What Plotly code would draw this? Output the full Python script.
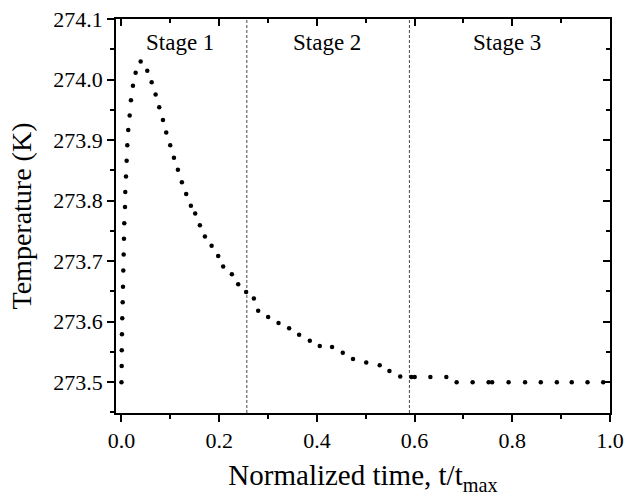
import plotly.graph_objects as go

# Normalized time t/tmax
t_norm = [0.0, 0.0004, 0.0006, 0.001, 0.0016, 0.0025, 0.0031, 0.0037, 0.0045, 0.0051,
          0.0057, 0.0072, 0.0078, 0.0092, 0.0106, 0.0119, 0.0139, 0.0168, 0.0194, 0.0235,
          0.029, 0.0393, 0.0528, 0.0618, 0.0699, 0.0773, 0.0849, 0.0916, 0.0998, 0.1074,
          0.1155, 0.1237, 0.1325, 0.1421, 0.1509, 0.1605, 0.1708, 0.1845, 0.198, 0.2082,
          0.226, 0.2389, 0.2552, 0.271, 0.2798, 0.3002, 0.3215, 0.3432, 0.3636, 0.3855,
          0.4059, 0.4311, 0.453, 0.474, 0.501, 0.5286, 0.5485, 0.5706, 0.5935, 0.6002,
          0.6323, 0.665, 0.6861, 0.7188, 0.7515, 0.7587, 0.7924, 0.8262, 0.8583, 0.8912,
          0.9217, 0.954, 0.9861]
# Temperature (K)
temperature = [273.500, 273.5265, 273.5525, 273.579, 273.6055, 273.632, 273.6578, 273.6843, 273.7108, 273.7368,
               273.7627, 273.7892, 273.814, 273.8399, 273.8659, 273.8912, 273.9167, 273.9404, 273.9657, 273.9896,
               274.0111, 274.0298, 274.0144, 273.9955, 273.9752, 273.9541, 273.9333, 273.9123, 273.8912, 273.8709,
               273.851, 273.8303, 273.8109, 273.7914, 273.7786, 273.7594, 273.7406, 273.7252, 273.7086, 273.6909,
               273.6783, 273.6618, 273.649, 273.6382, 273.618, 273.6076, 273.5977, 273.5889, 273.5781, 273.5684,
               273.5596, 273.5579, 273.5485, 273.5384, 273.5323, 273.5281, 273.5182, 273.5094, 273.5083, 273.5083,
               273.5083, 273.5083, 273.500, 273.500, 273.500, 273.500, 273.500, 273.500, 273.500, 273.500,
               273.500, 273.500, 273.500]

stage_bounds = [0.2566, 0.5894]
stage_labels = ["Stage 1", "Stage 2", "Stage 3"]
stage_label_x = [0.12, 0.42, 0.789]
stage_label_y = 274.061

x_range = [-0.0112, 1.0]
y_range = [273.449, 274.1]
x_ticks = [0.0, 0.2, 0.4, 0.6, 0.8, 1.0]
x_ticktext = ["0.0", "0.2", "0.4", "0.6", "0.8", "1.0"]
y_ticks = [273.5, 273.6, 273.7, 273.8, 273.9, 274.0, 274.1]
y_ticktext = ["273.5", "273.6", "273.7", "273.8", "273.9", "274.0", "274.1"]

FONT = "Liberation Serif, Times New Roman, serif"

fig = go.Figure()
fig.add_trace(go.Scatter(x=t_norm, y=temperature, mode="markers",
                         marker=dict(color="black", size=4.5),
                         showlegend=False, hoverinfo="skip"))
# invisible trace to activate mirrored top/right axes
fig.add_trace(go.Scatter(x=[x_range[0]], y=[y_range[0]], xaxis="x2", yaxis="y2",
                         mode="markers", marker=dict(opacity=0), showlegend=False,
                         hoverinfo="skip"))

for xb in stage_bounds:
    fig.add_shape(type="line", x0=xb, x1=xb, y0=0, y1=1, xref="x", yref="paper",
                  line=dict(color="#333333", width=0.9, dash="3px,2px"), layer="below")

for lbl, lx in zip(stage_labels, stage_label_x):
    fig.add_annotation(x=lx, y=stage_label_y, text=lbl, showarrow=False,
                       font=dict(family=FONT, size=23, color="black"),
                       xanchor="center", yanchor="middle")

common_line = dict(showline=True, linecolor="black", linewidth=1.5, showgrid=False,
                   zeroline=False, tickcolor="black", tickwidth=1.5, automargin=False)

fig.update_layout(
    width=625, height=499,
    margin=dict(l=116, r=15, t=19, b=86),
    paper_bgcolor="white", plot_bgcolor="white",
    font=dict(family=FONT, color="black"),
    xaxis=dict(range=x_range, tickmode="array", tickvals=x_ticks, ticktext=x_ticktext,
               ticks="outside", ticklen=7,
               minor=dict(ticks="outside", ticklen=4, dtick=0.1, tick0=0.0,
                          tickcolor="black", tickwidth=1.5),
               tickfont=dict(family=FONT, size=22, color="black"),
               title=dict(text="Normalized time, t/t<sub>max</sub>",
                          font=dict(family=FONT, size=29, color="black"), standoff=13),
               **common_line),
    yaxis=dict(range=y_range, tickmode="array", tickvals=y_ticks, ticktext=y_ticktext,
               ticks="outside", ticklen=7,
               minor=dict(ticks="outside", ticklen=4, dtick=0.05, tick0=273.45,
                          tickcolor="black", tickwidth=1.5),
               tickfont=dict(family=FONT, size=22, color="black"),
               title=dict(text="Temperature (K)",
                          font=dict(family=FONT, size=28, color="black"), standoff=14),
               **common_line),
    xaxis2=dict(range=x_range, overlaying="x", side="top", tickmode="array",
                tickvals=x_ticks, showticklabels=False, ticks="inside", ticklen=7,
                minor=dict(ticks="inside", ticklen=4, dtick=0.1, tick0=0.0,
                           tickcolor="black", tickwidth=1.5),
                **common_line),
    yaxis2=dict(range=y_range, overlaying="y", side="right", tickmode="array",
                tickvals=y_ticks, showticklabels=False, ticks="inside", ticklen=7,
                minor=dict(ticks="inside", ticklen=4, dtick=0.05, tick0=273.45,
                           tickcolor="black", tickwidth=1.5),
                **common_line),
)

fig.write_html(
    "out.html",
    config={"displayModeBar": False},
    post_script="document.body.style.margin='0';document.body.style.overflow='hidden';",
)
